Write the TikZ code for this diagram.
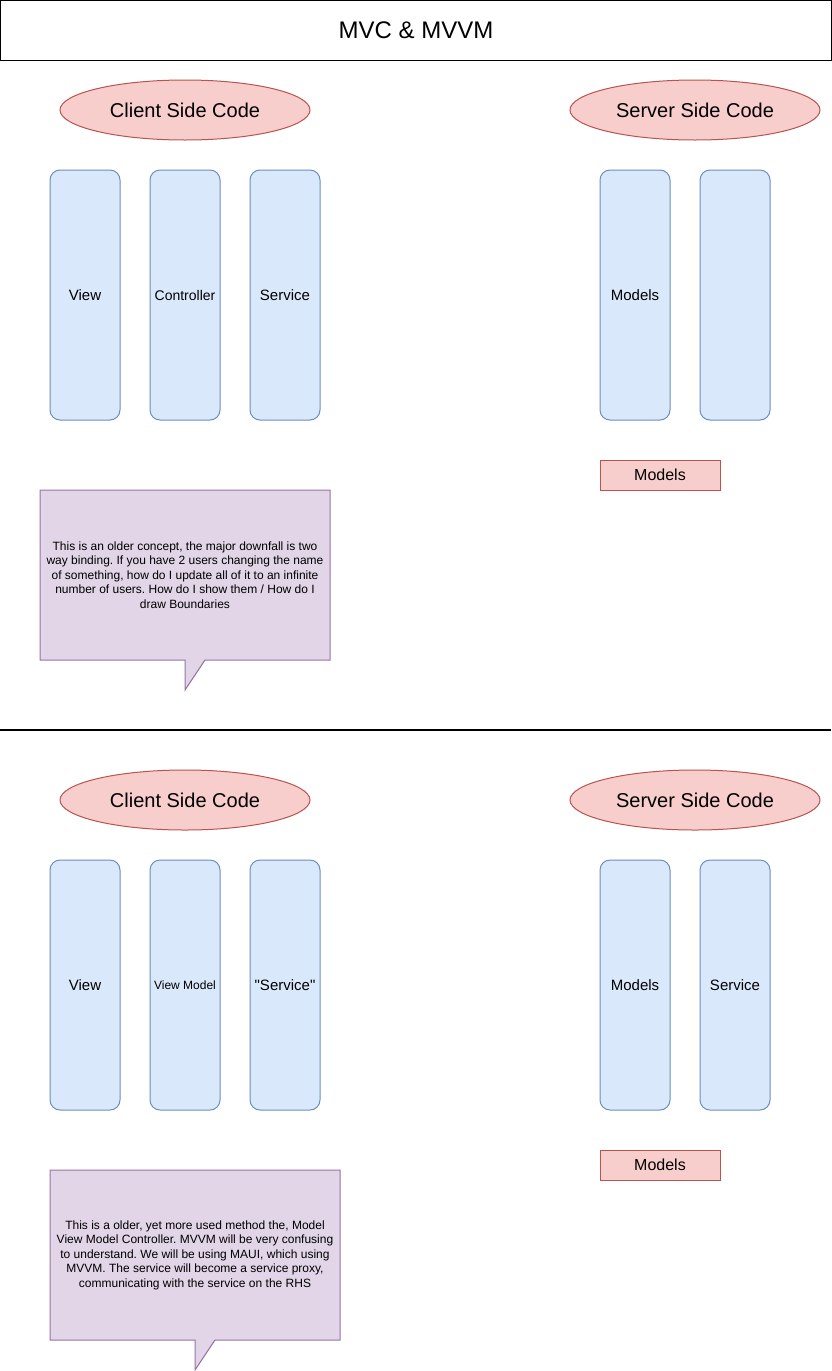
\documentclass[tikz,border=0pt]{standalone}
\usepackage{fontspec}
\setmainfont{Liberation Sans}
\usepackage{xcolor}
\usetikzlibrary{shapes.geometric,positioning}
\frenchspacing

\definecolor{blueFill}{HTML}{DAE8FC}
\definecolor{blueLine}{HTML}{6C8EBF}
\definecolor{redFill}{HTML}{F8CECC}
\definecolor{redLine}{HTML}{B85450}
\definecolor{purpleFill}{HTML}{E1D5E7}
\definecolor{purpleLine}{HTML}{9673A6}

\begin{document}
\begin{tikzpicture}[x=1pt, y=-1pt, line width=1pt, node distance=29pt]
      \tikzstyle{layer}=[draw=blueLine, fill=blueFill, rounded corners=10pt, minimum width=70pt, minimum height=250pt, inner sep=0pt, font=\fontsize{15}{18}\selectfont]
      \tikzstyle{side}=[ellipse, draw=redLine, fill=redFill, minimum width=250pt, minimum height=60pt, inner sep=0pt, font=\fontsize{20}{24}\selectfont]
      \tikzstyle{modelbox}=[draw=redLine, fill=redFill, minimum width=120pt, minimum height=30pt, inner sep=0pt, font=\fontsize{16}{19}\selectfont]
      \tikzstyle{note}=[draw=purpleLine, fill=purpleFill]
      \tikzstyle{notetext}=[align=center, inner sep=0pt, font=\fontsize{12}{14.5}\selectfont]

      \useasboundingbox (0,0) rectangle (832,1371);

      \node[draw, minimum width=831pt, minimum height=59.5pt, inner sep=0pt, font=\fontsize{24}{29}\selectfont] (title) at (416,30.25) {MVC \& MVVM};

      % MVC
      \node[side] (client1) at (185,110) {Client Side Code};
      \node[side] (server1) at (695,110) {Server Side Code};

      \node[layer] (view1) at (85,295) {View};
      \node[layer, right=of view1] (ctrl1) {\fontsize{14}{17}\selectfont Controller};
      \node[layer, right=of ctrl1] (svc1) {Service};
      \node[layer] (models1) at (635,295) {Models};
      \node[layer, right=of models1] (blank1) {};
      \node[modelbox] (dto1) at (660,475) {Models};

      \draw[note] (40,490) -- (330,490) -- (330,660) -- (205,660) -- (185,690) -- (185,660) -- (40,660) -- cycle;
      \node[notetext] (note1) at (185,575) {This is an older concept, the major downfall is two\\
        way binding. If you have 2 users changing the name\\
        of something, how do I update all of it to an infinite\\
        number of users. How do I show them / How do I\\
        draw Boundaries};

      \coordinate (cutL) at (0,730);
      \coordinate (cutR) at (831,730);
      \draw[line width=1.3pt] (cutL) -- (cutR);

      % MVVM
      \node[side] (client2) at (185,800) {Client Side Code};
      \node[side] (server2) at (695,800) {Server Side Code};

      \node[layer] (view2) at (85,985) {View};
      \node[layer, right=of view2] (vm2) {\fontsize{12}{14}\selectfont View Model};
      \node[layer, right=of vm2] (svc2) {\textquotedbl Service\textquotedbl};
      \node[layer] (models2) at (635,985) {Models};
      \node[layer, right=of models2] (server2svc) {Service};
      \node[modelbox] (dto2) at (660,1165) {Models};

      \draw[note] (50,1170) -- (340,1170) -- (340,1340) -- (215,1340) -- (195,1370) -- (195,1340) -- (50,1340) -- cycle;
      \node[notetext] (note2) at (195,1255) {This is a older, yet more used method the, Model\\
        View Model Controller. MVVM will be very confusing\\
        to understand. We will be using MAUI, which using\\
        MVVM. The service will become a service proxy,\\
        communicating with the service on the RHS};

\end{tikzpicture}
\end{document}
